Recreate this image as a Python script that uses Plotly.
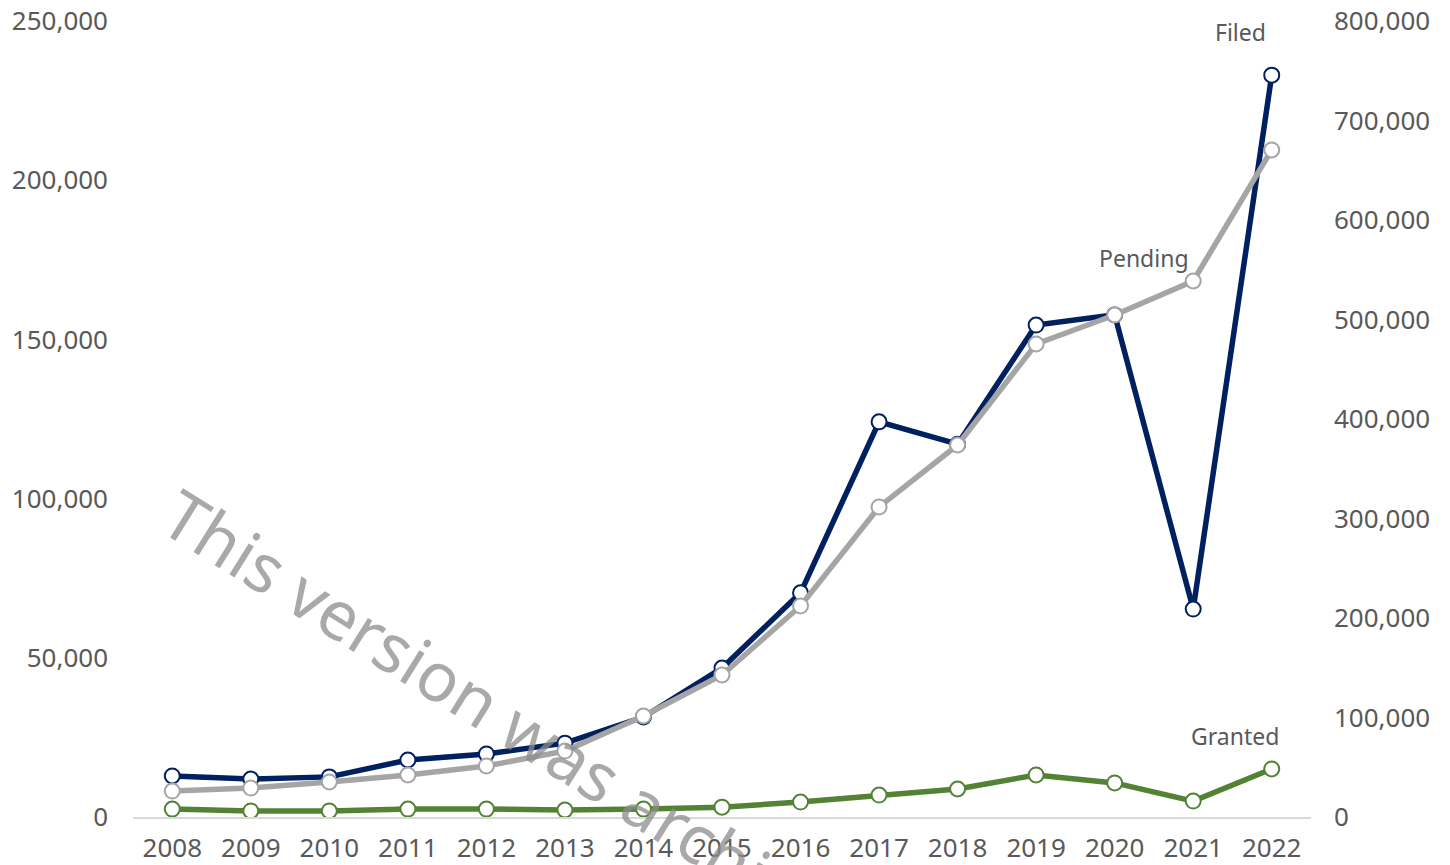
import plotly.graph_objects as go

years = ["2008", "2009", "2010", "2011", "2012", "2013", "2014", "2015",
         "2016", "2017", "2018", "2019", "2020", "2021", "2022"]
filed = [12900, 11900, 12600, 17900, 19800, 23200, 31400, 46800,
         70400, 124100, 117100, 154500, 157700, 65300, 233000]
pending = [26100, 29100, 35200, 42200, 51300, 66300, 101500, 142700,
           212100, 311600, 373900, 475400, 504500, 538700, 670400]
granted = [2500, 1900, 1900, 2500, 2500, 2200, 2500, 3100,
           4700, 6900, 8800, 13200, 10700, 5000, 15100]

left_ticks = [0, 50000, 100000, 150000, 200000, 250000]
right_ticks = [0, 100000, 200000, 300000, 400000, 500000, 600000, 700000, 800000]

NAVY = "#002060"
GREY = "#A5A5A5"
GREEN = "#548235"
TXT = "#595959"
FONT = "Noto Sans"

L, R, T, B = 125, 147, 13, 56

fig = go.Figure()

def add_line(y, color, axis, name):
    fig.add_trace(go.Scatter(
        x=years, y=y, mode="lines+markers", name=name, yaxis=axis,
        line=dict(color=color, width=5.5),
        marker=dict(size=15, color="white", line=dict(color=color, width=2)),
        showlegend=False,
    ))

add_line(granted, GREEN, "y", "Granted")
add_line(pending, GREY, "y2", "Pending")
add_line(filed, NAVY, "y", "Filed")

fig.update_layout(
    width=1450, height=865,
    margin=dict(l=L, r=R, t=T, b=B),
    plot_bgcolor="white", paper_bgcolor="white",
    font=dict(family=FONT, size=26, color=TXT),
    xaxis=dict(type="category", range=[-0.5, 14.5], showgrid=False,
               showline=True, linecolor="#D9D9D9", linewidth=2,
               ticks="", zeroline=False, ticklabelstandoff=7, automargin=False,
               ticklabeloverflow="allow"),
    yaxis=dict(range=[0, 250000], tickvals=left_ticks, tickformat=",",
               showgrid=False, zeroline=False, showline=False,
               ticklabelstandoff=24, automargin=False, ticklabeloverflow="allow"),
    yaxis2=dict(range=[0, 800000], tickvals=right_ticks, tickformat=",",
                overlaying="y", side="right", showgrid=False,
                zeroline=False, showline=False, ticklabelstandoff=22,
                automargin=False, ticklabeloverflow="allow"),
)

labels = [("Filed", 13.6, 246500), ("Pending", 12.37, 175600), ("Granted", 13.53, 25400)]
for txt, xx, yy in labels:
    fig.add_annotation(x=xx, y=yy, xref="x", yref="y", text=txt,
                       showarrow=False, font=dict(size=23, color=TXT, family=FONT))

pw = 1450 - L - R
ph = 865 - T - B
fig.add_annotation(
    x=(523 - 8 - L) / pw, y=(865 - B - (726 - 8)) / ph,
    xref="paper", yref="paper", xanchor="center", yanchor="middle",
    text="This version was archived.",
    showarrow=False, textangle=32,
    font=dict(size=68, color="rgba(140,140,140,0.75)", family=FONT),
)

fig.write_html("out.html")
